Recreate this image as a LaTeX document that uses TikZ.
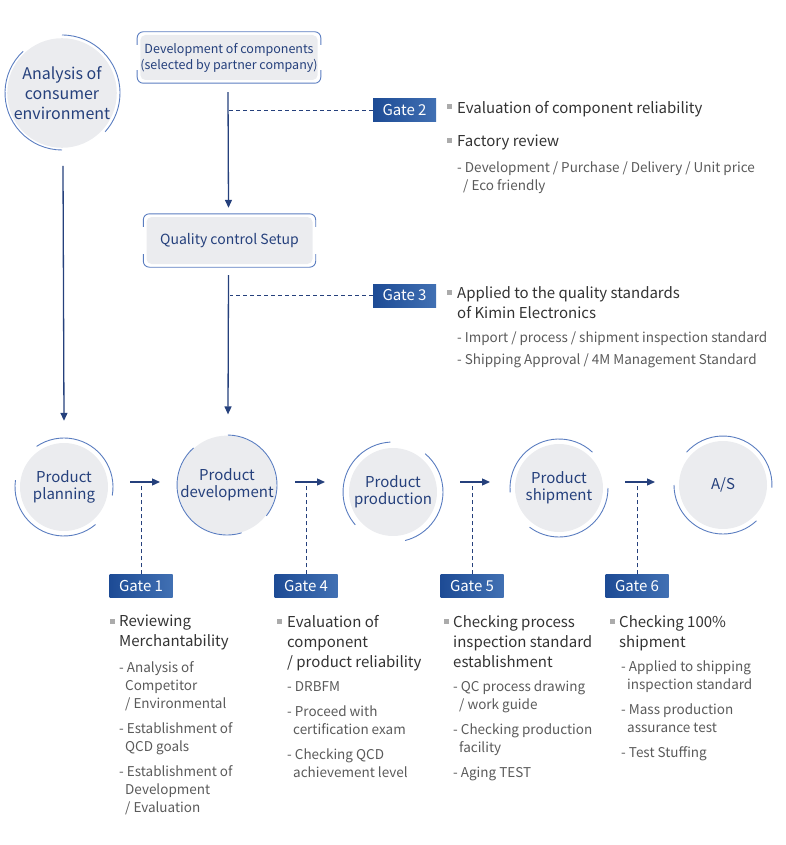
\documentclass[tikz,border=0pt]{standalone}
\usepackage{fontspec}
\setmainfont{Noto Sans CJK KR}
\usetikzlibrary{arrows.meta,calc,positioning}
\definecolor{navy}{HTML}{25407C}
\definecolor{ringblue}{HTML}{5A7DC0}
\definecolor{fillgray}{HTML}{EBECEF}
\definecolor{gatedark}{HTML}{1D4B95}
\definecolor{gatelight}{HTML}{4170B3}
\definecolor{ttlgray}{HTML}{333333}
\definecolor{subgray}{HTML}{5A5A5A}
\definecolor{bulgray}{HTML}{ABABAB}
% arc of the ring round a stage (angles as seen on the page)
\newcommand{\ringarc}[4]{\draw[ring] ($(#1)+({-1*(#2)}:#4)$) arc[start angle={-1*(#2)}, end angle={-1*(#3)}, radius=#4];}
\newcommand{\ind}{\hspace*{6pt}}

\begin{document}
\begin{tikzpicture}
      [x = 1pt, y = -1pt,
      stage/.style= {
         circle,
         fill = fillgray,
         text = navy,
         minimum size = 88,
         inner sep = 0pt,
         align = center,
         font = \fontsize{15}{17}\selectfont
      },
      ring/.style = {draw = ringblue, line width = 0.9},
      arr/.style = {-{Triangle[length=8pt,width=7pt]}, draw = navy, line width = 1.3},
      link/.style = {draw = navy, dash pattern = on 4pt off 3pt, line width = 0.9},
      gatebox/.style= {
         rectangle,
         left color = gatedark,
         right color = gatelight,
         text = white,
         minimum width = 63,
         minimum height = 23,
         inner sep = 0pt,
         font = \fontsize{15}{18}\selectfont
      },
      compbox/.style= {
         rectangle,
         rounded corners = 5,
         fill = fillgray,
         text = navy,
         align = center,
         inner sep = 0pt,
         minimum width = 166
      },
      boxline/.style = {draw = ringblue, line width = 0.9, rounded corners = 6},
      bul/.style = {fill = bulgray, minimum size = 5, inner sep = 0pt},
      ttl/.style = {anchor = north west, inner sep = 0pt, align = left,
         text = ttlgray, font = \fontsize{15}{20}\selectfont},
      subtxt/.style = {anchor = north west, inner sep = 0pt, align = left,
         text = subgray, font = \fontsize{13.5}{18}\selectfont}]

      \useasboundingbox (0, 0) rectangle (785, 845);

      % stages
      \node[stage, minimum size = 104, font = \fontsize{16}{20}\selectfont] (ace) at (62, 93)
         {Analysis of\\consumer\\environment};
      \node[stage] (pp) at (64, 487) {Product\\planning};
      \node[stage] (pd) at (227, 485) {Product\\development};
      \node[stage] (ppr) at (393, 492) {Product\\production};
      \node[stage] (ps) at (559, 488) {Product\\shipment};
      \node[stage] (as) at (723, 485) {A/S};

      \ringarc{ace}{133}{270}{57}
      \ringarc{ace}{90}{-42}{58}
      \ringarc{pp}{124}{-10}{49}
      \ringarc{pp}{172}{310}{49}
      \ringarc{pd}{132}{287}{50}
      \ringarc{pd}{89}{-38}{50}
      \ringarc{ppr}{93}{221}{50}
      \ringarc{ppr}{50}{-76}{50}
      \ringarc{ps}{47}{185}{49}
      \ringarc{ps}{0}{-127}{49}
      \ringarc{as}{138}{-3}{49}
      \ringarc{as}{180}{313}{49}

      % component boxes
      \node[compbox, minimum height = 45, font = \fontsize{12.5}{16}\selectfont] (dev) at (229, 57.5)
         {Development of components\\(selected by partner company)};
      \node[compbox, minimum height = 47, font = \fontsize{14}{17}\selectfont] (qc) at (229.5, 240.5)
         {Quality control Setup};
      \foreach \b in {dev, qc} {
         \draw[boxline] ([shift={(-3, 10)}]\b.north west) -- ([shift={(-3, -3)}]\b.north west)
            -- ([shift={(3, -3)}]\b.north east) -- ([shift={(3, 10)}]\b.north east);
         \draw[boxline] ([shift={(-3, -10)}]\b.south west) -- ([shift={(-3, 3)}]\b.south west)
            -- ([shift={(3, 3)}]\b.south east) -- ([shift={(3, -10)}]\b.south east);
      }

      % gates
      \node[gatebox] (g2) at (404.5, 110.5) {Gate 2};
      \node[gatebox] (g3) at (404.5, 295.5) {Gate 3};
      \node[gatebox] (g1) at (141, 586) {Gate 1};
      \node[gatebox] (g4) at (306, 586) {Gate 4};
      \node[gatebox] (g5) at (472, 586) {Gate 5};
      \node[gatebox] (g6) at (637, 586) {Gate 6};

      % arrows
      \draw[arr] (ace.south) ++(1, 18) -- ($(pp.north) + (0, -22)$);
      \draw[arr] (dev.south) ++(-1, 12) -- ($(qc.north) + (-1, -9)$);
      \draw[arr] (qc.south) ++(-1, 11) -- ($(pd.north) + (1, -21)$);
      \draw[link] (g2.west) -- (g2.west -| dev.south);
      \draw[link] (g3.west) -- (g3.west -| qc.south);

      \coordinate (s1) at (130, 482);
      \coordinate (s4) at (295, 482);
      \coordinate (s5) at (460, 482);
      \coordinate (s6) at (625, 482);
      \foreach \g in {1, 4, 5, 6} {
         \draw[arr] (s\g) -- ++(30, 0);
         \draw[link] (g\g.north) -- (g\g.north |- s\g);
      }

      % gate 2 and 3 texts
      \node[bul] (b2a) at (449.5, 107) {};
      \node[ttl] (t2a) at (457, 101) {Evaluation of component reliability};
      \node[bul] (b2b) at (449.5, 141) {};
      \node[ttl] (t2b) at (457, 135) {Factory review};
      \node[subtxt] (d2) at (457, 162)
         {- Development / Purchase / Delivery / Unit price\\\ind/ Eco friendly};

      \node[bul] (b3) at (449.5, 292) {};
      \node[ttl] (t3) at (457, 286) {Applied to the quality standards\\of Kimin Electronics};
      \node[subtxt] (d3) at (457, 332)
         {- Import / process / shipment inspection standard\\[4pt]- Shipping Approval / 4M Management Standard};

      % gate 1, 4, 5, 6 texts
      \node[bul] (b1) at (112.5, 621) {};
      \node[ttl] (t1) at (119, 615) {Reviewing\\Merchantability};
      \node[subtxt] (d1) at (119, 661)
         {- Analysis of\\\ind Competitor\\\ind/ Environmental\\[7pt]- Establishment of\\\ind QCD goals\\[7pt]- Establishment of\\\ind Development\\\ind/ Evaluation};

      \node[bul] (b4) at (279.5, 621) {};
      \node[ttl] (t4) at (287, 615) {Evaluation of\\component\\/ product reliability};
      \node[subtxt] (d4) at (287, 681)
         {- DRBFM\\[7pt]- Proceed with\\\ind certification exam\\[7pt]- Checking QCD\\\ind achievement level};

      \node[bul] (b5) at (446, 621) {};
      \node[ttl] (t5) at (453, 615) {Checking process\\inspection standard\\establishment};
      \node[subtxt] (d5) at (453, 681)
         {- QC process drawing\\\ind/ work guide\\[7pt]- Checking production\\\ind facility\\[7pt]- Aging TEST};

      \node[bul] (b6) at (612.5, 621) {};
      \node[ttl] (t6) at (619, 615) {Checking 100\%\\shipment};
      \node[subtxt] (d6) at (621, 661)
         {- Applied to shipping\\\ind inspection standard\\[7pt]- Mass production\\\ind assurance test\\[7pt]- Test Stuffing};

   \end{tikzpicture}
\end{document}
